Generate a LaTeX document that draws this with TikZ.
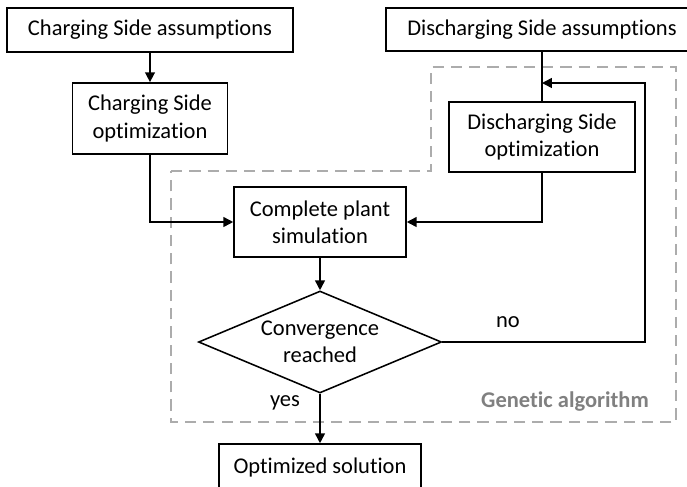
\documentclass[tikz,border=0pt]{standalone}
\usepackage{fontspec}
\setmainfont[Ligatures=NoCommon]{Carlito}
\usetikzlibrary{shapes.geometric,arrows.meta}

\tikzset{
  BoxStyle/.style={draw,line width=1.1pt,align=center,inner sep=0pt,
    font=\fontsize{16}{19.5}\selectfont},
  DecisionStyle/.style={BoxStyle,shape=diamond,aspect=2.4},
  EdgeStyle/.style={line width=1.1pt,-{Triangle[length=7pt,width=7pt]}},
  LineStyle/.style={line width=1.1pt},
  GroupStyle/.style={draw=gray!65,line width=1pt,dash pattern=on 8pt off 5pt},
  LabelStyle/.style={font=\fontsize{16}{19.5}\selectfont}
}

\begin{document}
\begin{tikzpicture}
          \useasboundingbox (0,0) rectangle (17.175,-12.15);

          % genetic algorithm frame
          \draw[GroupStyle] (4.275,-4.275) -- (10.775,-4.275) -- (10.775,-1.675)
            -- (16.9,-1.675) -- (16.9,-10.55) -- (4.275,-10.55) -- cycle;
          \node[LabelStyle,text=gray,font=\fontsize{16}{19.5}\selectfont\bfseries] (ga) at (14.125,-10.05) {Genetic algorithm};

          % charging side
          \node[BoxStyle,minimum width=7.15cm,minimum height=1.1cm] (c_0) at (3.75,-0.75) {Charging Side assumptions};
          \node[BoxStyle,minimum width=3.875cm,minimum height=1.775cm] (c_1) at (3.75,-2.96) {Charging Side\\optimization};

          % discharging side
          \node[BoxStyle,minimum width=7.8cm,minimum height=1.075cm] (d_0) at (13.55,-0.74) {Discharging Side assumptions};
          \node[BoxStyle,minimum width=4.65cm,minimum height=1.75cm] (d_1) at (13.55,-3.425) {Discharging Side\\optimization};

          % main column
          \node[BoxStyle,minimum width=4.3cm,minimum height=1.75cm] (sim) at (8,-5.55) {Complete plant\\simulation};
          \node[DecisionStyle,minimum width=6.075cm,minimum height=2.55cm] (conv) at (8,-8.55) {Convergence\\reached};
          \node[BoxStyle,minimum width=5.05cm,minimum height=1.15cm] (sol) at (8,-11.675) {Optimized solution};

          \coordinate (back) at (16.125,-2.075);
          \coordinate (join) at (d_0.south |- back);

          % flow edges
          \draw[EdgeStyle] (c_0) -- (c_1);
          \draw[EdgeStyle] (c_1.south) |- (sim.west);
          \draw[LineStyle] (d_0) -- (d_1);
          \draw[EdgeStyle] (d_1.south) |- (sim.east);
          \draw[EdgeStyle] (sim) -- (conv);
          \draw[EdgeStyle] (conv) -- (sol);

          % loop back
          \draw[EdgeStyle] (conv.east) -| (back) -- (join);

          \node[LabelStyle] (no) at (12.7,-8.05) {no};
          \node[LabelStyle] (yes) at (7.125,-10.075) {yes};
\end{tikzpicture}
\end{document}
